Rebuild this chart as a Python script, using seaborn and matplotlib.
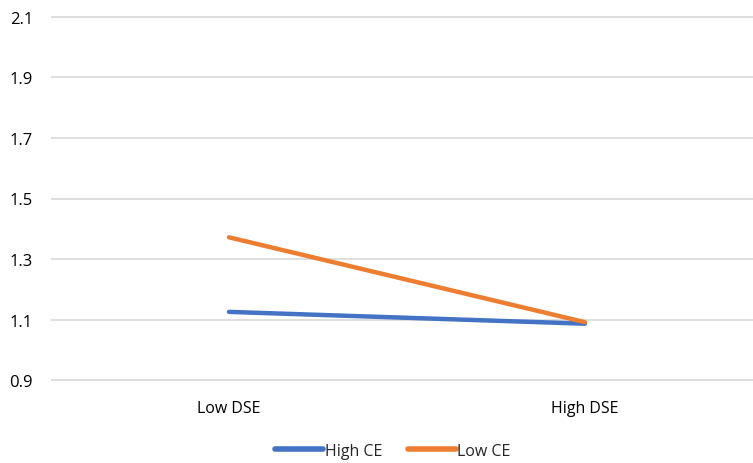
import numpy as np
import pandas as pd
import matplotlib.pyplot as plt
import seaborn as sns

# Data
dse_levels = ["Low DSE", "High DSE"]
high_ce = [1.126, 1.087]
low_ce = [1.372, 1.092]
series_names = ["High CE", "Low CE"]
y_ticks = [0.9, 1.1, 1.3, 1.5, 1.7, 1.9, 2.1]


def main():
    sns.set_theme(style="white")
    plt.rcParams['font.family'] = ['Open Sans', 'DejaVu Sans']

    df = pd.DataFrame({
        "DSE": dse_levels * 2,
        "value": high_ce + low_ce,
        "CE": [series_names[0]] * 2 + [series_names[1]] * 2,
    })

    fig = plt.figure(figsize=(7.53, 4.64), dpi=100)
    ax = fig.add_axes([51 / 753, (464 - 382) / 464, 702 / 753, (382 - 17) / 464])

    palette = {"High CE": "#4472C4", "Low CE": "#ED7D31"}
    sns.lineplot(data=df, x="DSE", y="value", hue="CE", palette=palette,
                 linewidth=3.2, ax=ax, sort=False, legend=True)
    for line in ax.get_lines():
        line.set_solid_capstyle("round")

    ax.set_xlim(-0.5, 1.472)
    ax.set_ylim(0.898, 2.102)
    ax.set_yticks(y_ticks)
    ax.set_yticklabels([f"{t:.1f}" for t in y_ticks])
    ax.grid(axis="y", color="#D9D9D9", linewidth=1.2)
    ax.set_axisbelow(True)
    for s in ax.spines.values():
        s.set_visible(False)
    ax.tick_params(axis="y", length=0, labelsize=12, colors="#000000", pad=13)
    ax.tick_params(axis="x", length=0, labelsize=11.5, colors="#000000", pad=14)
    ax.set_xlabel("")
    ax.set_ylabel("")

    handles, labels = ax.get_legend_handles_labels()
    for h in handles:
        h.set_linewidth(4)
    ax.legend(handles, labels, loc="center", bbox_to_anchor=(393 / 753, (464 - 452) / 464),
              bbox_transform=fig.transFigure, ncol=2, frameon=False, fontsize=11.5,
              handlelength=3.0, handletextpad=0.1, columnspacing=1.6)

    fig.savefig("out.png", dpi=100)
    plt.close(fig)


if __name__ == "__main__":
    main()
